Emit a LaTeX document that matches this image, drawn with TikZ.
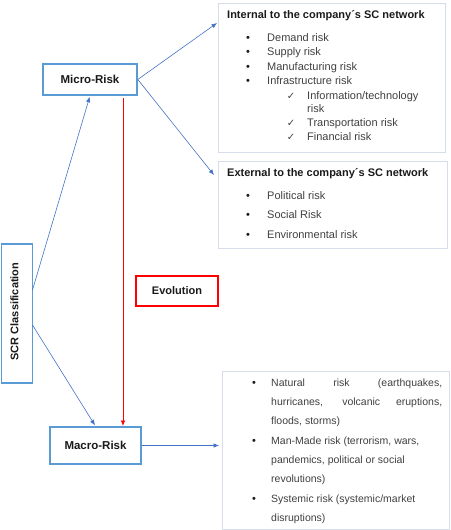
\documentclass[tikz,border=0pt]{standalone}
\usepackage{fontspec}
\setmainfont{Liberation Sans}
\newfontfamily\symfont{DejaVu Sans}
\usetikzlibrary{arrows.meta}
\definecolor{boxblue}{HTML}{5B9BD5}
\definecolor{arrblue}{HTML}{4472C4}
\definecolor{thinbox}{HTML}{D6DEEC}
\definecolor{bodytext}{HTML}{404040}
\definecolor{headtext}{HTML}{1A1A1A}
\definecolor{evred}{HTML}{FF0000}
\tikzset{
  mainbox/.style={draw=boxblue, line width=1.6pt, fill=white, inner sep=0pt, font=\fontsize{11.5}{13}\selectfont\bfseries, text=headtext},
  listbox/.style={draw=thinbox, line width=0.8pt, inner sep=0pt},
  redbox/.style={draw=evred, line width=1.6pt, inner sep=0pt, font=\fontsize{11}{13}\selectfont\bfseries, text=headtext},
  conn/.style={draw=arrblue, line width=0.6pt, -{Latex[length=5.5pt,width=4.5pt]}},
  redconn/.style={draw=evred, line width=0.7pt, -{Latex[length=5.5pt,width=4.5pt]}},
  head/.style={anchor=base west, inner sep=0pt, font=\fontsize{11}{13}\selectfont\bfseries, text=headtext},
  item/.style={anchor=base west, inner sep=0pt, font=\fontsize{11}{13}\selectfont, text=bodytext},
  mitem/.style={anchor=base west, inner sep=0pt, font=\fontsize{10.5}{12}\selectfont, text=bodytext},
  bul/.style={anchor=base, inner sep=0pt, font=\fontsize{11}{13}\selectfont, text=headtext},
  chk/.style={anchor=base, inner sep=0pt, font=\fontsize{10}{12}\symfont, text=bodytext},
}
\begin{document}
\begin{tikzpicture}[x=1pt,y=-1pt]
\useasboundingbox (0,0) rectangle (450,530);
% boxes
\node[mainbox, minimum width=94pt, minimum height=31pt] (micro) at (90,79.5) {Micro-Risk};
\node[mainbox, minimum width=91pt, minimum height=37pt] (macro) at (95.5,445.5) {Macro-Risk};
\node[redbox, minimum width=82pt, minimum height=30pt] (evo) at (177,291) {Evolution};
\node[mainbox, minimum width=31pt, minimum height=139pt] (scr) at (17,313.5) {};
\node[rotate=90, inner sep=0pt, font=\fontsize{11}{13}\selectfont\bfseries, text=headtext] (scrtext) at (14.5,311.5) {SCR Classification};
\node[listbox, minimum width=227pt, minimum height=149pt] (int) at (331.5,77.5) {};
\node[listbox, minimum width=229pt, minimum height=87pt] (ext) at (333,204.5) {};
\node[listbox, minimum width=227pt, minimum height=158pt] (mac) at (335.5,450) {};
% internal list
\node[head] (h1) at (227,18) {Internal to the company´s SC network};
\node[bul] (b1) at (248,41) {•}; \node[item] (t1) at (267,41) {Demand risk};
\node[bul] (b2) at (248,55.5) {•}; \node[item] (t2) at (267,55.5) {Supply risk};
\node[bul] (b3) at (248,70) {•}; \node[item] (t3) at (267,70) {Manufacturing risk};
\node[bul] (b4) at (248,84.5) {•}; \node[item] (t4) at (267,84.5) {Infrastructure risk};
\node[chk] (c1) at (291,99) {✓}; \node[item] (u1) at (307,99) {Information/technology};
\node[item] (u1b) at (307,112.5) {risk};
\node[chk] (c2) at (291,126.5) {✓}; \node[item] (u2) at (307,126.5) {Transportation risk};
\node[chk] (c3) at (291,140.5) {✓}; \node[item] (u3) at (307,140.5) {Financial risk};
% external list
\node[head] (h2) at (227,176) {External to the company´s SC network};
\node[bul] (e1b) at (248,199) {•}; \node[item] (e1) at (267,199) {Political risk};
\node[bul] (e2b) at (248,218) {•}; \node[item] (e2) at (267,218) {Social Risk};
\node[bul] (e3b) at (248,238) {•}; \node[item] (e3) at (267,238) {Environmental risk};
% macro list
\node[bul] (m1b) at (254,386) {•};
\node[mitem] (m1) at (271,386) {\makebox[171pt][s]{Natural risk (earthquakes,}};
\node[mitem] (m2) at (271,405) {\makebox[171pt][s]{hurricanes, volcanic eruptions,}};
\node[mitem] (m3) at (271,424) {floods, storms)};
\node[bul] (m4b) at (254,444) {•};
\node[mitem] (m4) at (271,444) {Man-Made risk (terrorism, wars,};
\node[mitem] (m5) at (271,463) {pandemics, political or social};
\node[mitem] (m6) at (271,482) {revolutions)};
\node[bul] (m7b) at (254,502) {•};
\node[mitem] (m7) at (271,502) {Systemic risk (systemic/market};
\node[mitem] (m8) at (271,521) {disruptions)};
% connector anchors
\coordinate (intin) at (217,23);
\coordinate (extin) at (214,175);
\coordinate (s1) at (32.5,290);
\coordinate (s2) at (32.5,325);
\coordinate (r1) at (123,98);
\coordinate (r2) at (123,427);
\coordinate (macin) at (219,445.5);
% connectors
\draw[conn] (micro.east) -- (intin);
\draw[conn] (micro.east) -- (extin);
\draw[conn, shorten >=1pt] (s1) -- (micro.south);
\draw[conn, shorten >=1pt] (s2) -- (macro.north);
\draw[redconn, shorten >=1pt] (r1) -- (r2);
\draw[conn] (macro.east) -- (macin);
\end{tikzpicture}
\end{document}
